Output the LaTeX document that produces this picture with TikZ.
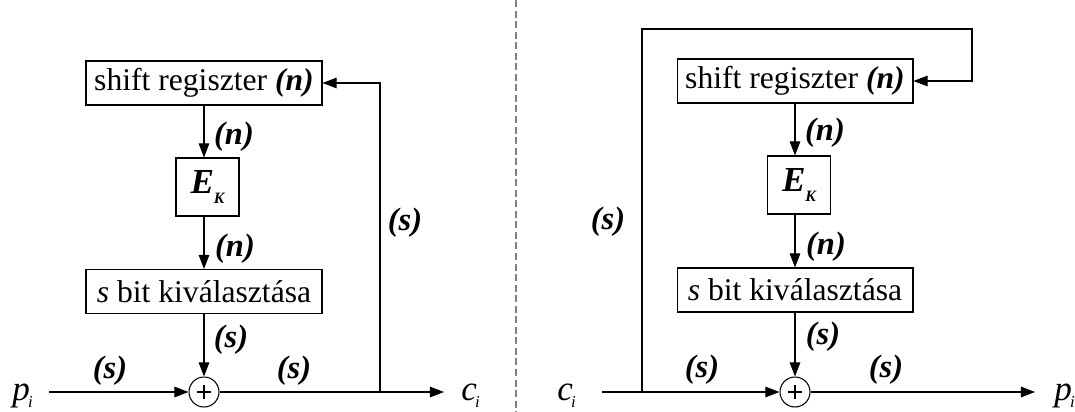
\documentclass[tikz,border=0pt]{standalone}
\usepackage{fontspec}
\setmainfont{Liberation Serif}
\usetikzlibrary{arrows.meta}
\newcommand{\sig}[2]{{\fontsize{20}{20}\selectfont\itshape #1}\kern-1pt\raisebox{-4pt}{\fontsize{9.5}{9}\selectfont\itshape #2}}
\newcommand{\bits}[1]{{\bfseries\itshape (#1)}}
\newcommand{\ek}{{\fontsize{20}{20}\selectfont\bfseries\itshape E}\raisebox{-5.7pt}{\fontsize{9}{9}\selectfont\bfseries\itshape K}}

\begin{document}
\begin{tikzpicture}[x=0.02cm,y=-0.02cm,>={Triangle[length=8pt,width=6pt]},
  every node/.style={font=\rmfamily\fontsize{18}{20}\selectfont},
  wire/.style={line width=0.6pt},
  blk/.style={draw,line width=0.6pt,minimum width=4.72cm,minimum height=0.88cm,inner sep=1pt},
  ekbox/.style={draw,line width=0.6pt,minimum width=1.26cm,minimum height=1.16cm,inner sep=0pt},
  xorc/.style={draw,circle,line width=0.6pt,minimum size=0.6cm,inner sep=0pt,
    path picture={\draw[line width=0.6pt]
      ([xshift=-4pt]path picture bounding box.center) -- ([xshift=4pt]path picture bounding box.center)
      ([yshift=-4pt]path picture bounding box.center) -- ([yshift=4pt]path picture bounding box.center);}},
  lbl/.style={inner sep=0pt,font=\rmfamily\fontsize{18.5}{20}\selectfont},
  sigl/.style={anchor=base west,inner sep=0pt}]
  \useasboundingbox (0,0) rectangle (1075,412);

  % encryption side
  \node[blk] (sr1) at (204,83) {shift regiszter \bits{n}};
  \node[ekbox] (ek1) at (207.5,187) {\ek};
  \node[blk] (sb1) at (204,291.5) {{\itshape s} bit kiválasztása};
  \node[xorc] (x1) at (204,392) {};
  \node[sigl] (p1) at (12,400) {\sig{p}{i}};
  \node[sigl] (c1) at (461,400) {\sig{c}{i}};
  \coordinate (in1) at (49,392);
  \coordinate (out1) at (444,392);
  \coordinate (fb1) at (380,392);
  % draw the wires
  \draw[wire,->] (sr1.south) -- (sr1.south |- ek1.north);
  \draw[wire,->] (sr1.south |- ek1.south) -- (sb1.north);
  \draw[wire,->] (sb1.south) -- (x1.north);
  \draw[wire,->] (in1) -- (x1.west);
  \draw[wire,->] (x1.east) -- (out1);
  \draw[wire,->] (fb1) |- (sr1.east);
  % labels
  \node[lbl] at (234,137) {\bits{n}};
  \node[lbl] at (235,249) {\bits{n}};
  \node[lbl] at (231,340) {\bits{s}};
  \node[lbl] at (110,371) {\bits{s}};
  \node[lbl] at (294,371) {\bits{s}};
  \node[lbl] at (405,223) {\bits{s}};

  % separator
  \draw[gray,line width=0.6pt,dash pattern=on 4pt off 2pt] (516,0) -- (516,412);

  % decryption side
  \node[blk] (sr2) at (795,81) {shift regiszter \bits{n}};
  \node[ekbox] (ek2) at (799,185) {\ek};
  \node[blk] (sb2) at (795,290) {{\itshape s} bit kiválasztása};
  \node[xorc] (x2) at (795,392) {};
  \node[sigl] (c2) at (557,400) {\sig{c}{i}};
  \node[sigl] (p2) at (1054,400) {\sig{p}{i}};
  \coordinate (in2) at (602,392);
  \coordinate (out2) at (1035,392);
  \coordinate (fb2) at (642,392);
  \coordinate (tl2) at (642,29);
  \coordinate (tr2) at (972,29);
  % draw the wires
  \draw[wire,->] (sr2.south) -- (sr2.south |- ek2.north);
  \draw[wire,->] (sr2.south |- ek2.south) -- (sb2.north);
  \draw[wire,->] (sb2.south) -- (x2.north);
  \draw[wire,->] (in2) -- (x2.west);
  \draw[wire,->] (x2.east) -- (out2);
  \draw[wire,->] (fb2) -- (tl2) -- (tr2) |- (sr2.east);
  % labels
  \node[lbl] at (825,133) {\bits{n}};
  \node[lbl] at (826,247) {\bits{n}};
  \node[lbl] at (823,337) {\bits{s}};
  \node[lbl] at (702,370) {\bits{s}};
  \node[lbl] at (886,370) {\bits{s}};
  \node[lbl] at (608,222) {\bits{s}};
\end{tikzpicture}
\end{document}
